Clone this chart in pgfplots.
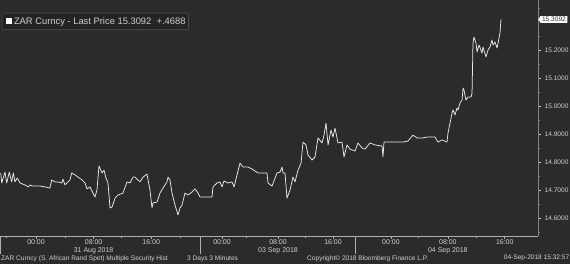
\documentclass[border=0pt]{standalone}
\usepackage{pgfplots}
\pgfplotsset{compat=1.18}
\usepackage{fontspec}
\setmainfont{Liberation Sans}
\usetikzlibrary{shapes.symbols}
\definecolor{bg}{RGB}{43,43,43}
\definecolor{txt}{RGB}{205,208,212}
\definecolor{axl}{RGB}{140,128,130}
\definecolor{botl}{RGB}{175,175,175}
\definecolor{tickpink}{RGB}{235,190,190}
\definecolor{legbg}{RGB}{36,36,36}
\definecolor{legdraw}{RGB}{78,78,78}
\definecolor{linecol}{RGB}{232,232,232}
\definecolor{sepcol}{RGB}{150,150,150}
\pgfplotstableread{
h v
-4.90 14.761
-4.76 14.725
-4.31 14.764
-4.07 14.725
-3.71 14.764
-3.38 14.729
-3.15 14.761
-2.92 14.729
-2.60 14.743
-2.22 14.725
-1.53 14.718
-1.07 14.711
-0.83 14.718
-0.42 14.714
0.56 14.714
1.25 14.711
1.94 14.707
2.18 14.736
2.64 14.729
3.06 14.729
3.61 14.725
3.75 14.739
4.03 14.718
4.44 14.729
4.72 14.736
4.96 14.761
5.42 14.754
5.83 14.746
6.39 14.736
6.81 14.725
7.08 14.704
7.50 14.711
7.92 14.689
8.19 14.675
8.47 14.700
8.75 14.786
9.17 14.761
9.44 14.771
9.72 14.743
10.00 14.725
10.28 14.636
10.56 14.639
10.97 14.671
11.39 14.682
12.08 14.689
12.64 14.729
13.06 14.725
13.47 14.746
13.75 14.746
14.44 14.729
14.86 14.746
15.42 14.757
15.56 14.736
15.83 14.700
16.11 14.636
16.25 14.654
16.81 14.657
17.22 14.689
17.64 14.707
18.19 14.729
18.33 14.746
18.61 14.736
18.89 14.689
19.31 14.646
19.72 14.611
20.00 14.636
20.28 14.646
20.69 14.689
21.11 14.682
21.67 14.693
22.08 14.704
22.50 14.689
22.78 14.675
24.44 14.675
24.58 14.711
25.14 14.725
25.56 14.729
25.83 14.711
26.11 14.732
26.67 14.725
27.22 14.729
27.50 14.711
27.92 14.754
28.33 14.796
28.75 14.782
29.44 14.782
30.00 14.775
30.83 14.761
32.08 14.761
32.22 14.725
32.78 14.714
33.47 14.761
33.89 14.764
34.17 14.782
34.31 14.761
34.58 14.761
34.86 14.671
35.28 14.700
35.69 14.746
35.97 14.729
36.39 14.771
36.81 14.796
37.08 14.871
37.50 14.861
37.78 14.825
38.33 14.807
38.75 14.818
39.17 14.886
39.72 14.868
40.00 14.896
40.28 14.939
40.56 14.861
40.97 14.914
41.25 14.889
41.53 14.921
41.94 14.868
42.50 14.871
42.78 14.818
43.19 14.861
43.61 14.846
44.31 14.839
44.72 14.868
45.28 14.850
45.69 14.846
46.39 14.868
47.08 14.861
48.06 14.857
48.19 14.818
48.33 14.871
49.17 14.871
50.14 14.871
50.97 14.871
51.67 14.875
52.36 14.896
52.92 14.886
53.75 14.886
54.31 14.889
55.42 14.889
55.83 14.871
56.39 14.879
57.08 14.871
57.22 14.904
57.50 14.939
57.78 14.975
57.92 14.986
58.19 14.968
58.47 14.993
58.61 14.986
58.89 15.011
59.17 15.021
59.31 15.064
59.44 15.057
59.72 15.021
60.00 15.032
60.42 15.032
60.56 15.046
60.69 15.225
60.83 15.246
61.11 15.225
61.25 15.193
61.53 15.218
61.94 15.189
62.08 15.211
62.50 15.175
62.78 15.200
63.06 15.211
63.33 15.236
63.47 15.218
63.75 15.229
64.03 15.207
64.17 15.225
64.44 15.261
64.58 15.3092
}\zar
\begin{document}
\begin{tikzpicture}
\fill[bg] (0,-28bp) rectangle (570bp,236bp);
\useasboundingbox (0,-28bp) rectangle (570bp,236bp);
\begin{axis}[
  at={(0,0)}, anchor=south west,
  scale only axis, width=538bp, height=236bp,
  xmin=-5, xmax=69.72, ymin=14.5357, ymax=15.3786,
  clip=false,
  axis x line*=bottom, axis y line*=right,
  x axis line style={-, draw=botl, line width=0.7bp},
  y axis line style={-, draw=axl, line width=0.8bp},
  /pgf/number format/assume math mode=true,
  xtick={0,8,16,25.83,33.61,41.25,49.3,57.2,65.1},
  xticklabels={00:00,{08:00\\31 Aug 2018},16:00,00:00,{08:00\\03 Sep 2018},16:00,00:00,{08:00\\04 Sep 2018},16:00},
  minor xtick={-4.07,4.03,11.9,20,29.26,37.36,53.1,61.2},
  extra x ticks={-4.93,22.78,44.31},
  extra x tick labels={},
  extra x tick style={major tick length=18bp, tick align=outside, tick style={draw=sepcol, line width=0.8bp}},
  xticklabel style={font=\fontsize{7}{8.3}\selectfont, text=txt, align=center, inner sep=0pt, anchor=north, yshift=-0.6bp},
  x tick style={draw=botl, line width=0.6bp},
  ytick={14.6,14.7,14.8,14.9,15.0,15.1,15.2},
  minor ytick={14.55,14.65,14.75,14.85,14.95,15.05,15.15,15.25,15.35},
  yticklabel={\pgfmathprintnumber[fixed,fixed zerofill,precision=4]{\tick}},
  yticklabel style={font=\fontsize{6.6}{8}\selectfont, text=txt, inner sep=0pt, anchor=west, xshift=3.5bp},
  y tick style={draw=tickpink, line width=0.7bp},
  minor y tick style={draw=axl},
  tick align=outside,
  major tick length=3bp, minor tick length=2bp,
  legend style={at={(0.0032,0.946)}, anchor=north west, fill=legbg, draw=legdraw,
    rounded corners=1.5bp, text=txt, font=\fontsize{9.4}{11}\selectfont,
    inner xsep=1bp, inner ysep=2.2bp, line width=0.6bp},
  legend cell align=left,
  legend image code/.code={\path[draw=none] (0bp,0bp) -- (9bp,0bp);\fill[white, draw=none, sharp corners] (3bp,-3bp) rectangle (9bp,3bp);},
]
\addplot[draw=linecol, line width=0.75bp, line join=round] table[x=h,y=v] {\zar};
\addlegendentry{ZAR Curncy - Last Price 15.3092\ \ +.4688}
\node[signal, signal to=west, signal pointer angle=110, fill=white, text=bg,
  font=\fontsize{6.6}{8}\selectfont, inner xsep=1.5bp, inner ysep=1bp, anchor=west]
  at (axis cs:69.72,15.3092) {15.3092};
\end{axis}
\begin{scope}[every node/.style={font=\fontsize{6.6}{8}\selectfont, text=txt, inner sep=0pt}]
\node[anchor=west] at (1bp,-22.3bp) {ZAR Curncy (S. African Rand Spot) Multiple Security Hist};
\node[anchor=west] at (187bp,-22.3bp) {3 Days 3 Minutes};
\node[anchor=west] at (307bp,-22.3bp) {Copyright© 2018 Bloomberg Finance L.P.};
\node[anchor=east] at (569.5bp,-22.3bp) {04-Sep-2018 15:32:57};
\end{scope}
\end{tikzpicture}
\end{document}
